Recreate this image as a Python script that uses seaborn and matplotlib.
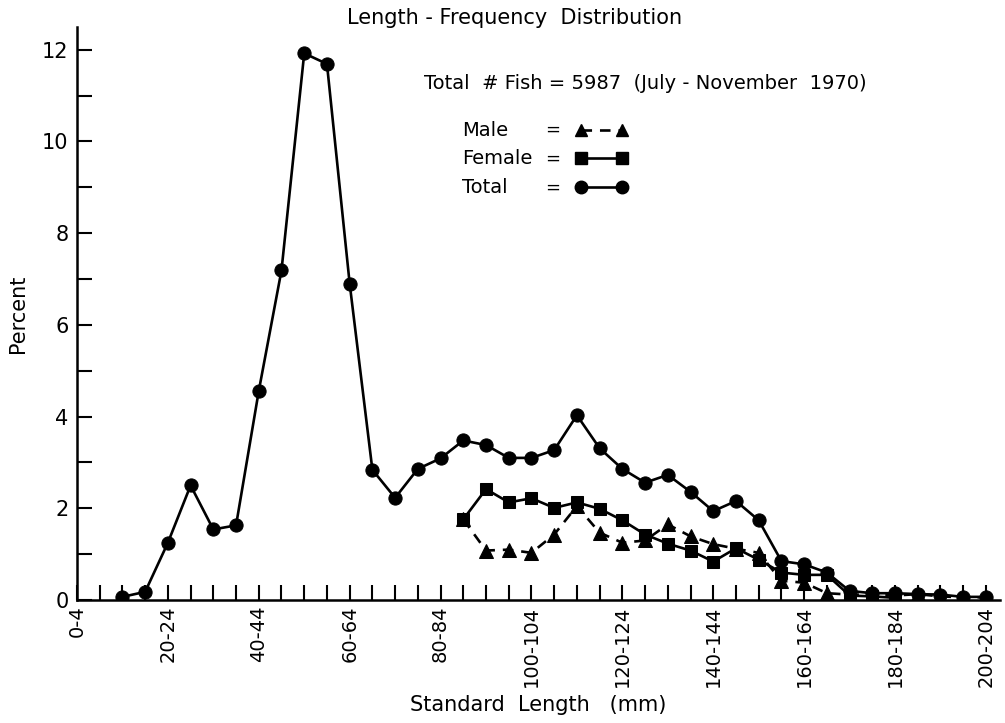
import matplotlib
matplotlib.use("Agg")
import matplotlib.pyplot as plt
import seaborn as sns
import pandas as pd
import numpy as np
from matplotlib.ticker import MultipleLocator, FixedLocator

# ---- data (bin index: 0 -> "0-4", 1 -> "5-9", ... 40 -> "200-204") ----
total_bins = list(range(2, 41))
total_pct = [0.07, 0.18, 1.25, 2.5, 1.54, 1.63, 4.56, 7.19, 11.92, 11.69,
             6.9, 2.84, 2.23, 2.86, 3.09, 3.48, 3.38, 3.1, 3.1, 3.27,
             4.03, 3.31, 2.86, 2.56, 2.73, 2.36, 1.94, 2.16, 1.74, 0.85,
             0.78, 0.6, 0.2, 0.15, 0.15, 0.13, 0.12, 0.07, 0.07]

female_bins = list(range(17, 37))
female_pct = [1.76, 2.42, 2.13, 2.22, 2.01, 2.13, 1.99, 1.74, 1.43, 1.23,
              1.08, 0.84, 1.13, 0.88, 0.6, 0.55, 0.55, 0.1, 0.08, 0.05]

male_bins = list(range(17, 41))
male_pct = [1.76, 1.08, 1.1, 1.03, 1.43, 2.05, 1.47, 1.25, 1.3, 1.65,
            1.39, 1.22, 1.12, 1.03, 0.42, 0.38, 0.15, 0.12, 0.12, 0.1,
            0.13, 0.08, 0.06, 0.06]

tick_positions = [0, 4, 8, 12, 16, 20, 24, 28, 32, 36, 40]
tick_labels = ["0-4", "20-24", "40-44", "60-64", "80-84", "100-104",
               "120-124", "140-144", "160-164", "180-184", "200-204"]
y_ticks = [0, 2, 4, 6, 8, 10, 12]

sns.set_style("ticks")
plt.rcParams['font.family'] = ['DejaVu Sans']
plt.rcParams['text.color'] = 'black'
plt.rcParams['axes.labelcolor'] = 'black'
plt.rcParams['xtick.color'] = 'black'
plt.rcParams['ytick.color'] = 'black'

fig = plt.figure(figsize=(10.05, 7.23), dpi=100)
ax = fig.add_axes([0.0766, 0.170, 0.918, 0.793])

df_t = pd.DataFrame({"bin": total_bins, "pct": total_pct})
df_f = pd.DataFrame({"bin": female_bins, "pct": female_pct})
df_m = pd.DataFrame({"bin": male_bins, "pct": male_pct})

lw = 1.9
sns.lineplot(data=df_m, x="bin", y="pct", ax=ax, color="black", lw=lw,
             linestyle=(0, (4, 3)), marker="^", markersize=10,
             markeredgecolor="black", markerfacecolor="black")
sns.lineplot(data=df_f, x="bin", y="pct", ax=ax, color="black", lw=lw,
             marker="s", markersize=8.5,
             markeredgecolor="black", markerfacecolor="black")
sns.lineplot(data=df_t, x="bin", y="pct", ax=ax, color="black", lw=lw,
             marker="o", markersize=9.5,
             markeredgecolor="black", markerfacecolor="black")

ax.set_xlim(0, 40.6)
ax.set_ylim(0, 12.5)
sns.despine(ax=ax)
for s in ["left", "bottom"]:
    ax.spines[s].set_linewidth(1.8)
    ax.spines[s].set_color("black")

ax.xaxis.set_major_locator(FixedLocator(tick_positions))
ax.set_xticklabels(tick_labels, rotation=90, fontsize=14)
ax.xaxis.set_minor_locator(MultipleLocator(1))
ax.yaxis.set_major_locator(FixedLocator(y_ticks))
ax.set_yticklabels([str(v) for v in y_ticks], fontsize=15)
ax.yaxis.set_minor_locator(MultipleLocator(1))
ax.tick_params(axis="both", which="both", direction="in", width=1.5,
               color="black", length=11, labelcolor="black")
ax.tick_params(axis="x", which="major", pad=4)
ax.tick_params(axis="y", which="major", pad=6)

ax.set_xlabel("Standard  Length   (mm)", fontsize=15, labelpad=6, color="black")
ax.set_ylabel("Percent", fontsize=15, labelpad=10, color="black")

fig.text(0.512, 0.975, "Length - Frequency  Distribution", ha="center",
         va="center", fontsize=15, color="black")
fig.text(0.642, 0.885, "Total  # Fish = 5987  (July - November  1970)",
         ha="center", va="center", fontsize=14, color="black")

# hand-drawn style legend
leg_rows = [("Male", 0.820, "^", (0, (4, 3))),
            ("Female", 0.781, "s", "-"),
            ("Total", 0.741, "o", "-")]
for name, yy, mk, ls in leg_rows:
    fig.text(0.460, yy, name, ha="left", va="center", fontsize=14, color="black")
    fig.text(0.542, yy, "=", ha="left", va="center", fontsize=13, color="black")
    fig.add_artist(plt.Line2D([0.578, 0.619], [yy, yy], transform=fig.transFigure,
                              color="black", lw=lw, linestyle=ls, marker=mk,
                              markersize=9, markerfacecolor="black"))

fig.savefig("out.png", dpi=100)
